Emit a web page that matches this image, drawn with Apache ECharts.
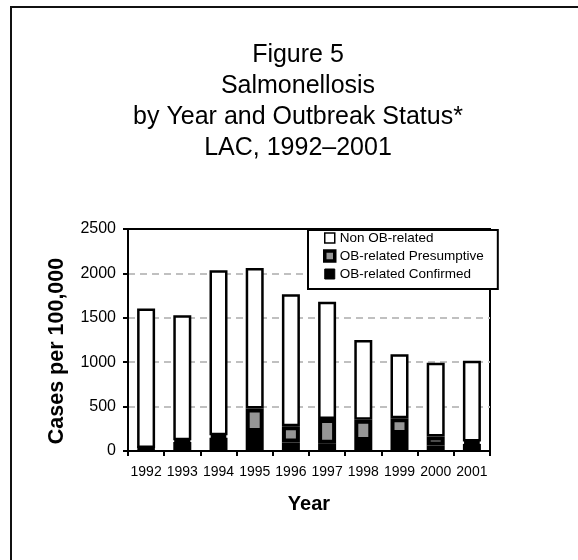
<!DOCTYPE html>
<html>
<head>
<meta charset="utf-8">
<script src="https://cdn.jsdelivr.net/npm/echarts@6/dist/echarts.min.js"></script>
<style>
  html, body { margin: 0; padding: 0; background: #fff; }
  #chart { width: 578px; height: 560px; }
</style>
</head>
<body>
<div id="chart"></div>
<script>
// Salmonellosis rates per 100,000, split by outbreak status
const years = ['1992', '1993', '1994', '1995', '1996', '1997', '1998', '1999', '2000', '2001'];
const obConfirmed   = [30, 100, 150, 214, 95, 83, 113, 192, 62, 80];
const obPresumptive = [5, 20, 27, 264, 183, 278, 239, 177, 101, 26];
const nonOutbreak   = [1570, 1410, 1858, 1582, 1487, 1319, 898, 721, 832, 909];

const titleLines = ['Figure 5', 'Salmonellosis', 'by Year and Outbreak Status*', 'LAC, 1992\u20132001'];
const seriesNames = ['Non OB-related', 'OB-related Presumptive', 'OB-related Confirmed'];

const FONT = '"Liberation Sans", Arial, Helvetica, sans-serif';
const chart = echarts.init(document.getElementById('chart'), null, { renderer: 'canvas' });

// gridlines: none at 0 (x axis) or at the top edge (plot frame)
const gridColors = ['rgba(0,0,0,0)', '#c0c0c0', '#c0c0c0', '#c0c0c0', '#c0c0c0', 'rgba(0,0,0,0)'];

chart.setOption({
  backgroundColor: '#fff',
  animation: false,
  textStyle: { fontFamily: FONT, color: '#000' },
  graphic: [{
    type: 'rect',
    shape: { x: 11, y: 7, width: 620, height: 620 },
    style: { fill: 'none', stroke: '#111', lineWidth: 2 },
    z: 0
  }],
  title: {
    text: titleLines.join('\n'),
    left: 298,
    top: 40,
    textAlign: 'center',
    padding: 0,
    textStyle: { fontFamily: FONT, fontSize: 25, fontWeight: 'normal', color: '#000', lineHeight: 31 }
  },
  legend: {
    data: [
      { name: seriesNames[0], itemStyle: { borderWidth: 1.5 } },
      { name: seriesNames[1], itemStyle: { borderWidth: 3.5 } },
      { name: seriesNames[2], itemStyle: { borderWidth: 1 } }
    ],
    orient: 'vertical',
    left: 308,
    top: 230,
    icon: 'rect',
    itemWidth: 10,
    itemHeight: 10,
    itemGap: 4,
    padding: [1, 14, 8, 15],
    backgroundColor: '#fff',
    borderColor: '#000',
    borderWidth: 2,
    borderRadius: 0,
    selectedMode: false,
    textStyle: { fontFamily: FONT, fontSize: 13.5, color: '#000', lineHeight: 14 }
  },
  grid: {
    left: 128, right: 88, top: 229, bottom: 109,
    show: true, borderColor: '#000', borderWidth: 2, backgroundColor: 'transparent'
  },
  xAxis: {
    type: 'category',
    data: years,
    name: 'Year',
    nameLocation: 'middle',
    nameGap: 43,
    nameTextStyle: { fontFamily: FONT, fontSize: 20, fontWeight: 'bold', color: '#000' },
    axisLine: { lineStyle: { color: '#000', width: 2 } },
    axisTick: { show: true, length: 5, lineStyle: { color: '#000', width: 2 } },
    axisLabel: { fontFamily: FONT, fontSize: 14, color: '#000', margin: 14, interval: 0 },
    splitLine: { show: false }
  },
  yAxis: {
    type: 'value',
    min: 0, max: 2500, interval: 500,
    name: 'Cases per 100,000',
    nameLocation: 'middle',
    nameGap: 60,
    nameTextStyle: { fontFamily: FONT, fontSize: 21.5, fontWeight: 'bold', color: '#000', padding: [0, 22, 0, 0] },
    axisLine: { show: true, lineStyle: { color: '#000', width: 2 } },
    axisTick: { show: true, length: 5, lineStyle: { color: '#000', width: 2 } },
    axisLabel: { fontFamily: FONT, fontSize: 16, color: '#000', margin: 12, formatter: v => String(v) },
    splitLine: { show: true, lineStyle: { color: gridColors, width: 2, type: [7, 5] } }
  },
  series: [
    {
      name: seriesNames[2], type: 'bar', stack: 'total', data: obConfirmed,
      barWidth: 18, z: 4,
      itemStyle: { color: '#000', borderColor: '#000', borderWidth: 4 }
    },
    {
      name: seriesNames[1], type: 'bar', stack: 'total', data: obPresumptive,
      barWidth: 18, z: 3,
      itemStyle: { color: '#969696', borderColor: '#000', borderWidth: 4 }
    },
    {
      name: seriesNames[0], type: 'bar', stack: 'total', data: nonOutbreak,
      barWidth: 18, z: 2,
      itemStyle: { color: '#fff', borderColor: '#000', borderWidth: 2.5 }
    }
  ]
});
</script>
</body>
</html>
